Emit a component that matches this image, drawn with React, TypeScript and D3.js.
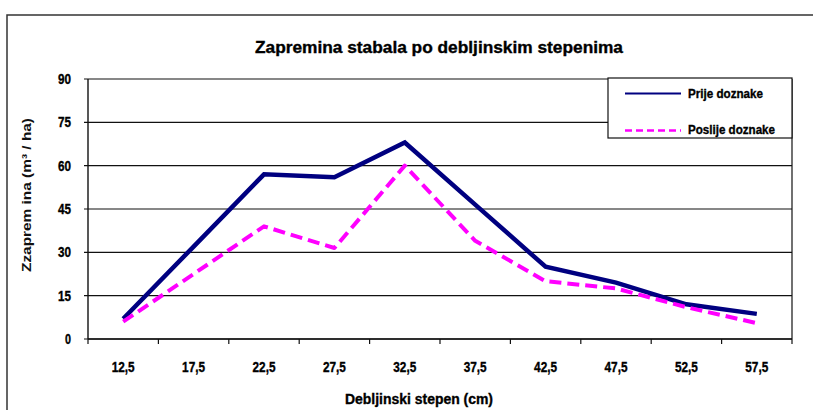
import React from "react";
import * as d3 from "d3";

const categories = ["12,5", "17,5", "22,5", "27,5", "32,5", "37,5", "42,5", "47,5", "52,5", "57,5"];
const prijeDoznake = [7, 32, 57, 56, 68, 46.5, 25, 19.5, 12, 8.7];
const poslijeDoznake = [6, 22.5, 39, 31.5, 60, 34, 20, 17.5, 11, 5.5];
const yTicks = [0, 15, 30, 45, 60, 75, 90];
const seriesNames = ["Prije doznake", "Poslije doznake"];

const W = 813;
const H = 410;
const plot = { left: 88, right: 792, top: 79, bottom: 339 };
const FONT = "'Liberation Sans Narrow', 'Arial Narrow', 'Liberation Sans', Arial, sans-serif";

export default function App() {
  const x = d3.scaleBand<string>().domain(categories).range([plot.left, plot.right]).padding(0);
  const y = d3.scaleLinear().domain([0, 90]).range([plot.bottom, plot.top]);
  const cx = (c: string) => (x(c) as number) + x.bandwidth() / 2;

  const line = d3
    .line<number>()
    .x((_, i) => cx(categories[i]))
    .y((d) => y(d));

  const boundaries = d3.range(categories.length + 1).map((i) => plot.left + i * x.bandwidth());
  const heavy = { stroke: "#000", strokeWidth: 0.35 };

  return (
    <svg
      width={W}
      height={H}
      style={{ position: "absolute", left: 0, top: 0, background: "#fff" }}
      fontFamily={FONT}
    >
      <rect x={0} y={0} width={W} height={H} fill="#fff" />
      {/* outer frame */}
      <rect x={7} y={15} width={W + 20} height={H + 20} fill="none" stroke="#333" strokeWidth={1.5} />

      {/* title */}
      <text
        x={439}
        y={53}
        textAnchor="middle"
        fontSize={16.5}
        fontWeight="bold"
        textLength={368}
        lengthAdjust="spacingAndGlyphs"
        {...heavy}
      >
        Zapremina stabala po debljinskim stepenima
      </text>

      {/* gridlines */}
      {yTicks.map((t) => (
        <line key={"g" + t} x1={plot.left - 4} x2={plot.right} y1={y(t)} y2={y(t)} stroke="#111" strokeWidth={1.2} />
      ))}
      {/* axes */}
      <line x1={plot.left} x2={plot.left} y1={plot.top} y2={plot.bottom} stroke="#111" strokeWidth={1.4} />
      <line x1={plot.right} x2={plot.right} y1={plot.top} y2={plot.bottom} stroke="#111" strokeWidth={1.2} />
      <line x1={plot.left} x2={plot.right} y1={plot.bottom} y2={plot.bottom} stroke="#111" strokeWidth={1.4} />
      {boundaries.map((bx, i) => (
        <line key={"t" + i} x1={bx} x2={bx} y1={plot.bottom} y2={plot.bottom + 5} stroke="#111" strokeWidth={1.2} />
      ))}

      {/* y tick labels */}
      {yTicks.map((t) => (
        <text
          key={"yl" + t}
          x={71}
          y={y(t) + 5}
          textAnchor="end"
          fontSize={14}
          fontWeight="bold"
          textLength={t < 10 ? 6 : 13}
          lengthAdjust="spacingAndGlyphs"
          {...heavy}
        >
          {t}
        </text>
      ))}

      {/* x tick labels */}
      {categories.map((c) => (
        <text
          key={"xl" + c}
          x={cx(c)}
          y={372}
          textAnchor="middle"
          fontSize={14}
          fontWeight="bold"
          textLength={23}
          lengthAdjust="spacingAndGlyphs"
          {...heavy}
        >
          {c}
        </text>
      ))}

      {/* axis titles */}
      <text
        x={419}
        y={404}
        textAnchor="middle"
        fontSize={14}
        fontWeight="bold"
        textLength={148}
        lengthAdjust="spacingAndGlyphs"
        {...heavy}
      >
        Debljinski stepen (cm)
      </text>
      <text
        transform={`translate(31,195) rotate(-90)`}
        textAnchor="middle"
        fontSize={12.5}
        fontWeight="bold"
        fontFamily="'Liberation Sans', Arial, sans-serif"
        textLength={154}
        lengthAdjust="spacingAndGlyphs"
        fill="#111"
      >
        Zzaprem ina (m³ / ha)
      </text>

      {/* series */}
      <path d={line(prijeDoznake) as string} fill="none" stroke="#000080" strokeWidth={4.5} strokeLinejoin="miter" />
      <path
        d={line(poslijeDoznake) as string}
        fill="none"
        stroke="#ff00ff"
        strokeWidth={4}
        strokeDasharray="12,6"
        strokeLinejoin="round"
      />

      {/* legend */}
      <rect x={608} y={78} width={184} height={60} fill="#fff" stroke="#111" strokeWidth={1.2} />
      <line x1={625} x2={681} y1={93.5} y2={93.5} stroke="#000080" strokeWidth={2.2} />
      <line x1={625} x2={681} y1={130.5} y2={130.5} stroke="#ff00ff" strokeWidth={2.5} strokeDasharray="7,4" />
      <text x={688} y={97.5} fontSize={12.5} fontWeight="bold" textLength={75} lengthAdjust="spacingAndGlyphs" {...heavy}>
        {seriesNames[0]}
      </text>
      <text x={688} y={134} fontSize={12.5} fontWeight="bold" textLength={87} lengthAdjust="spacingAndGlyphs" {...heavy}>
        {seriesNames[1]}
      </text>
    </svg>
  );
}
